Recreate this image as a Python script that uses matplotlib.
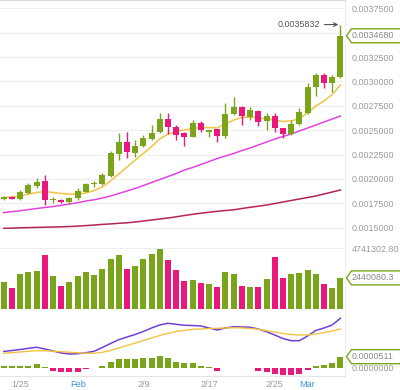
import matplotlib
matplotlib.use('Agg')
import matplotlib.pyplot as plt
from matplotlib.patches import Rectangle, Polygon
from matplotlib.transforms import IdentityTransform
import numpy as np
import pandas as pd

plt.rcParams['font.family'] = ['Liberation Sans', 'DejaVu Sans']

# daily candles 1/23 - 3/5
dates = pd.date_range('2018-01-23', '2018-03-05', freq='D')
opens = [0.001794, 0.001812, 0.001797, 0.001853, 0.001931, 0.001979, 0.001781, 0.001787,
         0.001760, 0.001801, 0.001869, 0.001945, 0.001948, 0.002035, 0.002256, 0.002379,
         0.002271, 0.002338, 0.002406, 0.002478, 0.002610, 0.002536, 0.002468, 0.002433,
         0.002571, 0.002486, 0.002509, 0.002445, 0.002663, 0.002735, 0.002638, 0.002700,
         0.002594, 0.002645, 0.002519, 0.002461, 0.002563, 0.002679, 0.002946, 0.003066,
         0.002981, 0.003048]
highs = [0.001825, 0.001820, 0.001886, 0.001958, 0.002006, 0.002040, 0.001812, 0.001799,
         0.001815, 0.001904, 0.001961, 0.001982, 0.002058, 0.002286, 0.002476, 0.002481,
         0.002399, 0.002451, 0.002548, 0.002673, 0.002676, 0.002553, 0.002484, 0.002604,
         0.002589, 0.002517, 0.002517, 0.002776, 0.002843, 0.002743, 0.002741, 0.002707,
         0.002679, 0.002673, 0.002527, 0.002604, 0.002724, 0.002987, 0.003086, 0.003083,
         0.003061, 0.0035832]
lows = [0.001784, 0.001794, 0.001789, 0.001845, 0.001907, 0.001733, 0.001756, 0.001753,
        0.001740, 0.001784, 0.001861, 0.001914, 0.001938, 0.002020, 0.002194, 0.002215,
        0.002225, 0.002327, 0.002399, 0.002471, 0.002461, 0.002399, 0.002333, 0.002425,
        0.002481, 0.002430, 0.002382, 0.002417, 0.002656, 0.002553, 0.002604, 0.002543,
        0.002502, 0.002484, 0.002417, 0.002451, 0.002553, 0.002671, 0.002851, 0.002930,
        0.002895, 0.003040]
closes = [0.001815, 0.001797, 0.001869, 0.001938, 0.001965, 0.001784, 0.001787, 0.001763,
          0.001807, 0.001876, 0.001948, 0.001951, 0.002040, 0.002263, 0.002379, 0.002279,
          0.002338, 0.002415, 0.002476, 0.002610, 0.002536, 0.002451, 0.002427, 0.002571,
          0.002502, 0.002502, 0.002440, 0.002666, 0.002735, 0.002648, 0.002707, 0.002587,
          0.002645, 0.002519, 0.002461, 0.002563, 0.002683, 0.002946, 0.003066, 0.002987,
          0.003048, 0.003468]

ma_short = [0.0018095, 0.0018146, 0.0018248, 0.0018454, 0.0018607, 0.0018710, 0.0018607,
            0.0018505, 0.0018454, 0.0018454, 0.0018556, 0.0018813, 0.0019172, 0.0019787,
            0.0020505, 0.0021223, 0.0021940, 0.0022607, 0.0023325, 0.0024095, 0.0024607,
            0.0024864, 0.0025018, 0.0025172, 0.0025274, 0.0025274, 0.0025223, 0.0025633,
            0.0026043, 0.0026300, 0.0026351, 0.0026249, 0.0026146, 0.0026043, 0.0025889,
            0.0025941, 0.0026197, 0.0026761, 0.0027479, 0.0027992, 0.0028659, 0.0029633]
ma_mid = [0.0016546, 0.0016638, 0.0016741, 0.0016854, 0.0016966, 0.0017069, 0.0017172,
          0.0017295, 0.0017428, 0.0017561, 0.0017736, 0.0017859, 0.0018043, 0.0018248,
          0.0018505, 0.0018761, 0.0019018, 0.0019325, 0.0019633, 0.0019941, 0.0020248,
          0.0020556, 0.0020915, 0.0021172, 0.0021479, 0.0021787, 0.0022095, 0.0022351,
          0.0022607, 0.0022915, 0.0023172, 0.0023479, 0.0023787, 0.0024095, 0.0024351,
          0.0024607, 0.0024915, 0.0025223, 0.0025531, 0.0025838, 0.0026146, 0.0026454]
ma_long = [0.0014936, 0.0014956, 0.0014987, 0.0015007, 0.0015028, 0.0015048, 0.0015069,
           0.0015089, 0.0015120, 0.0015161, 0.0015213, 0.0015274, 0.0015336, 0.0015387,
           0.0015449, 0.0015500, 0.0015582, 0.0015684, 0.0015787, 0.0015890, 0.0015992,
           0.0016115, 0.0016248, 0.0016371, 0.0016485, 0.0016587, 0.0016679, 0.0016761,
           0.0016833, 0.0016966, 0.0017089, 0.0017202, 0.0017325, 0.0017479, 0.0017633,
           0.0017787, 0.0017941, 0.0018095, 0.0018248, 0.0018454, 0.0018659, 0.0018864]

volumes = [2.10e6, 1.63e6, 2.74e6, 2.87e6, 3.00e6, 4.22e6, 2.59e6, 1.83e6, 2.10e6, 2.59e6,
           2.90e6, 2.67e6, 3.11e6, 3.89e6, 4.22e6, 3.13e6, 3.36e6, 3.89e6, 4.30e6, 4.69e6,
           3.83e6, 3.05e6, 2.22e6, 2.30e6, 2.02e6, 1.94e6, 1.76e6, 2.92e6, 2.72e6, 1.83e6,
           1.76e6, 1.71e6, 2.33e6, 4.09e6, 2.41e6, 2.72e6, 2.84e6, 3.08e6, 2.72e6, 1.97e6,
           1.63e6, 2440080.3]
vol_max = 4741302.80

dif = [7.46e-5, 7.91e-5, 8.36e-5, 8.90e-5, 9.36e-5, 8.59e-5, 7.68e-5, 6.78e-5, 6.33e-5,
       6.46e-5, 6.92e-5, 7.55e-5, 9.27e-5, 1.107e-4, 1.279e-4, 1.401e-4, 1.514e-4, 1.650e-4,
       1.808e-4, 1.944e-4, 2.020e-4, 1.975e-4, 1.930e-4, 1.921e-4, 1.898e-4, 1.808e-4,
       1.718e-4, 1.808e-4, 1.867e-4, 1.853e-4, 1.840e-4, 1.763e-4, 1.641e-4, 1.492e-4,
       1.333e-4, 1.234e-4, 1.234e-4, 1.446e-4, 1.695e-4, 1.808e-4, 1.944e-4, 2.246e-4]
dea = [6.64e-5, 6.92e-5, 7.23e-5, 7.55e-5, 7.82e-5, 7.77e-5, 7.59e-5, 7.37e-5, 7.10e-5,
       6.87e-5, 6.69e-5, 6.64e-5, 7.10e-5, 7.91e-5, 9.04e-5, 1.017e-4, 1.130e-4, 1.243e-4,
       1.356e-4, 1.469e-4, 1.568e-4, 1.650e-4, 1.704e-4, 1.749e-4, 1.763e-4, 1.785e-4,
       1.794e-4, 1.808e-4, 1.822e-4, 1.808e-4, 1.785e-4, 1.754e-4, 1.686e-4, 1.627e-4,
       1.559e-4, 1.514e-4, 1.492e-4, 1.492e-4, 1.537e-4, 1.596e-4, 1.672e-4, 1.763e-4]
hist = [1.04e-5, 0.90e-5, 1.04e-5, 1.04e-5, 1.81e-5, 0.30e-5, -1.22e-5, -1.67e-5, -1.67e-5,
        -1.67e-5, -0.59e-5, 0.20e-5, 0.90e-5, 2.85e-5, 4.07e-5, 4.07e-5, 4.07e-5, 4.38e-5,
        4.38e-5, 5.42e-5, 4.38e-5, 2.85e-5, 2.12e-5, 2.40e-5, 1.04e-5, 0.45e-5, -1.22e-5,
        0.20e-5, 0.20e-5, 0.10e-5, -0.10e-5, -1.22e-5, -1.67e-5, -2.71e-5, -3.16e-5,
        -3.16e-5, -2.71e-5, -0.90e-5, 1.04e-5, 1.36e-5, 2.40e-5, 5.11e-5]

tick_dates = ['2018-01-25', '2018-02-01', '2018-02-09', '2018-02-17', '2018-02-25', '2018-03-01']
tick_labels = ['1/25', 'Feb', '2/9', '2/17', '2/25', 'Mar']
month_labels = ['Feb', 'Mar']

UP = '#7aa51b'
DOWN = '#e8187c'
GRID = '#eeeeee'
LABEL = '#9a9a9a'

W, H = 400, 390
fig = plt.figure(figsize=(W / 100, H / 100), dpi=100)
right = 345
ax = fig.add_axes([0, 153 / H, right / W, 237 / H])
axv = fig.add_axes([0, 80 / H, right / W, 73 / H], sharex=ax)
axm = fig.add_axes([0, 14 / H, right / W, 64 / H], sharex=ax)

x = np.arange(len(dates))
colors = [UP if c >= o else DOWN for o, c in zip(opens, closes)]
bw = 0.73

# candles
for i in x:
    o, h, l, c = opens[i], highs[i], lows[i], closes[i]
    ax.vlines(i, l, h, color=colors[i], lw=1.0, zorder=3)
    body = max(abs(c - o), 0.000011)
    ax.add_patch(Rectangle((i - bw / 2, min(o, c)), bw, body, facecolor=colors[i],
                           edgecolor='none', zorder=4))

ax.plot(x, ma_short, color='#f2c343', lw=1.1, zorder=2)
ax.plot(x, ma_mid, color='#e244e0', lw=1.1, zorder=2)
ax.plot(x, ma_long, color='#b3245c', lw=1.1, zorder=2)

ax.set_ylim(0.0014044, 0.0038351)
ax.set_xlim(-0.463, 41.56)
ax.set_yticks([round(0.0015 + 0.00025 * k, 5) for k in range(10)])
# the 0.0035 label sits under the last-price tag
ax.yaxis.set_major_formatter(
    plt.FuncFormatter(lambda v, p: '' if abs(v - 0.0035) < 1e-9 else f'{v:.7f}'))

# volume
axv.bar(x, volumes, width=bw, color=colors, zorder=3)
axv.set_ylim(-54000, 5.618e6)
axv.set_yticks([vol_max])
axv.set_yticklabels([f'{vol_max:.2f}'])

# MACD
hcol = [UP if v >= 0 else DOWN for v in hist]
axm.bar(x, hist, width=bw, color=hcol, zorder=3)
axm.plot(x, dif, color='#7040d6', lw=1.1, zorder=4)
axm.plot(x, dea, color='#f2c343', lw=1.0, zorder=4)
axm.set_ylim(-3.62e-5, 2.531e-4)
axm.set_yticks([0.0])
axm.set_yticklabels(['0.0000000'])

for a in (ax, axv, axm):
    a.yaxis.tick_right()
    a.tick_params(axis='y', length=0, pad=5, labelsize=6.4, labelcolor=LABEL)
    a.tick_params(axis='x', length=0)
    for s in a.spines.values():
        s.set_visible(False)
    a.set_facecolor('none')
ax.grid(axis='y', color=GRID, lw=0.8)
axv.grid(axis='y', color=GRID, lw=0.8)
ax.spines['top'].set_visible(True)
ax.spines['top'].set_color('#dddddd')
axm.spines['bottom'].set_visible(True)
axm.spines['bottom'].set_color('#e4e4e4')
for a in (ax, axv, axm):
    a.spines['right'].set_visible(True)
    a.spines['right'].set_color('#eeeeee')

plt.setp(ax.get_xticklabels(), visible=False)
plt.setp(axv.get_xticklabels(), visible=False)
pos = [list(dates).index(pd.Timestamp(d)) for d in tick_dates]
axm.set_xticks(pos)
axm.set_xticklabels(tick_labels)
axm.tick_params(axis='x', pad=3, labelsize=6.6, labelcolor=LABEL)
for t in axm.get_xticklabels():
    if t.get_text() in month_labels:
        t.set_color('#3597d6')

# high annotation
ax.annotate(f'{highs[-1]:.7f}', xy=(x[-1] - 0.25, highs[-1]), xytext=(-13, 0),
            textcoords='offset points', ha='right', va='center', fontsize=6.4,
            color='#555555', annotation_clip=False,
            arrowprops=dict(arrowstyle='->', color='#555555', lw=0.8,
                            shrinkA=1, shrinkB=0))


# last value tags on the right
def tag(a, val, text):
    yd = a.transData.transform((0, val))[1]
    x0 = right + 1.5
    hh = 7
    pts = [(x0, yd), (x0 + 5, yd + hh), (W + 5, yd + hh), (W + 5, yd - hh), (x0 + 5, yd - hh)]
    fig.add_artist(Polygon(pts, closed=True, transform=IdentityTransform(),
                           facecolor='white', edgecolor=UP, lw=1.0, zorder=10))
    fig.text((right + 7) / W, yd / H, text, ha='left', va='center', fontsize=6.4,
             color='#8a8a8a', zorder=11)


tag(ax, closes[-1], f'{closes[-1]:.7f}')
tag(axv, volumes[-1], f'{volumes[-1]:.1f}')
tag(axm, hist[-1], f'{hist[-1]:.7f}')

fig.savefig('out.png', dpi=100, facecolor='white')
